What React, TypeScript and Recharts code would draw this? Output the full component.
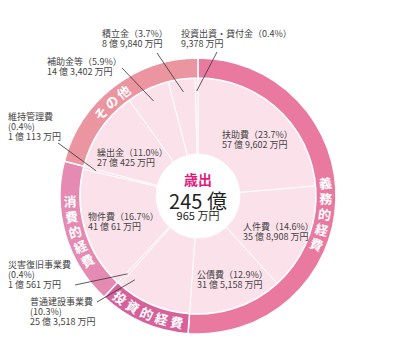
import { PieChart, Pie, Cell } from "recharts";

// 歳出の内訳（億・万円）
const names = ["扶助費", "人件費", "公債費", "普通建設事業費", "災害復旧事業費", "物件費", "維持管理費", "繰出金", "補助金等", "積立金", "投資出資・貸付金"];
const percents = [23.7, 14.6, 12.9, 10.3, 0.4, 16.7, 0.4, 11.0, 5.9, 3.7, 0.4];
const oku = [57, 35, 31, 25, 1, 41, 1, 27, 14, 8, 0];
const man = [9602, 8908, 5158, 3518, 561, 61, 113, 425, 3402, 9840, 9378];

// 性質別の区分
const groupNames = ["義務的経費", "投資的経費", "消費的経費", "その他"];
const groupOf = [0, 0, 0, 1, 1, 2, 2, 3, 3, 3, 3];

const totalOku = 245;
const totalMan = 965;

const groupColors = ["#e9799f", "#d6619b", "#e48ab3", "#eb95a0"];
const FONT = "'Noto Sans CJK JP', 'Noto Sans', sans-serif";
const CX = 198;
const CY = 196;
const RAD = Math.PI / 180;

const items = names.map((name, i) => ({ name, value: oku[i] * 10000 + man[i] }));
const groups = groupNames.map((name, g) => ({
  name,
  value: items.filter((_, i) => groupOf[i] === g).reduce((s, d) => s + d.value, 0),
}));

// label placement (first line centre), optional leader line start
type LabelPos = { x: number; y: number; split?: boolean; from?: [number, number]; pointDeg?: number };
const labelPos: LabelPos[] = [
  { x: 222, y: 135 },
  { x: 243, y: 227 },
  { x: 197, y: 275 },
  { x: 30, y: 302, split: true, from: [97, 302], pointDeg: 217 },
  { x: 8, y: 265, split: true, from: [75, 285] },
  { x: 88, y: 217 },
  { x: 8, y: 117, split: true, from: [58, 143] },
  { x: 97, y: 153 },
  { x: 47, y: 62, from: [122, 68] },
  { x: 102, y: 34, from: [157, 53] },
  { x: 181, y: 34, from: [217, 52] },
];

// ring text: mode decides how characters are turned, shift moves the text along the arc
const ringText = [
  { mode: "right", shift: -6 },
  { mode: "bottom", shift: 0 },
  { mode: "left", shift: 0 },
  { mode: "top", shift: 5 },
];

const amountText = (i: number) => {
  const m = man[i].toLocaleString("en-US");
  return oku[i] > 0 ? `${oku[i]} 億 ${m} 万円` : `${m} 万円`;
};

const renderItemLabel = (props: any) => {
  const { index, midAngle, cx, cy } = props;
  const pos = labelPos[index];
  const lines = pos.split
    ? [names[index], `(${percents[index].toFixed(1)}%)`, amountText(index)]
    : [`${names[index]}（${percents[index].toFixed(1)}%）`, amountText(index)];
  let leader = null;
  if (pos.from) {
    const a = pos.pointDeg !== undefined ? 90 - pos.pointDeg : midAngle;
    const ex = cx + 105 * Math.cos(-a * RAD);
    const ey = cy + 105 * Math.sin(-a * RAD);
    leader = <line x1={pos.from[0]} y1={pos.from[1]} x2={ex} y2={ey} stroke="#333" strokeWidth={0.8} />;
  }
  return (
    <g key={`lbl-${index}`}>
      {leader}
      {lines.map((t, k) => (
        <text key={k} x={pos.x} y={pos.y + k * 10 + 3} fontSize={9} fill="#444" fontFamily={FONT}>
          {t}
        </text>
      ))}
    </g>
  );
};

const renderRingLabel = (props: any) => {
  const { index, midAngle, cx, cy } = props;
  const cfg = ringText[index];
  const chars = Array.from(groupNames[index]);
  const n = chars.length;
  const step = 7;
  const r = 128;
  const dir = cfg.mode === "right" || cfg.mode === "top" ? -1 : 1;
  return (
    <g key={`ring-${index}`}>
      {chars.map((ch, i) => {
        const a = midAngle + cfg.shift + dir * (i - (n - 1) / 2) * step;
        const x = cx + r * Math.cos(-a * RAD);
        const y = cy + r * Math.sin(-a * RAD);
        let rot = 0;
        if (cfg.mode === "right") rot = -a;
        else if (cfg.mode === "left") rot = 180 - a;
        else if (cfg.mode === "bottom") rot = -90 - a;
        else rot = 90 - a;
        return (
          <text
            key={i}
            x={x}
            y={y}
            textAnchor="middle"
            dominantBaseline="central"
            fontSize={13}
            fontWeight="bold"
            fill="#fff"
            fontFamily={FONT}
            transform={`rotate(${rot}, ${x}, ${y})`}
          >
            {ch}
          </text>
        );
      })}
    </g>
  );
};

export default function App() {
  return (
    <div style={{ position: "absolute", left: 0, top: 0, background: "#fff" }}>
      <PieChart width={400} height={354} margin={{ top: 0, right: 0, bottom: 0, left: 0 }}>
        <Pie
          data={items}
          dataKey="value"
          cx={CX}
          cy={CY}
          innerRadius={42}
          outerRadius={118}
          startAngle={90}
          endAngle={-270}
          stroke="#fff"
          strokeWidth={1}
          label={renderItemLabel}
          labelLine={false}
          isAnimationActive={false}
        >
          {items.map((d) => (
            <Cell key={d.name} fill="#fae1ea" />
          ))}
        </Pie>
        <Pie
          data={groups}
          dataKey="value"
          cx={CX}
          cy={CY}
          innerRadius={118}
          outerRadius={138}
          startAngle={90}
          endAngle={-270}
          stroke="#fff"
          strokeWidth={1.5}
          label={renderRingLabel}
          labelLine={false}
          isAnimationActive={false}
        >
          {groups.map((d, i) => (
            <Cell key={d.name} fill={groupColors[i]} />
          ))}
        </Pie>
        <text x={CX} y={179} textAnchor="middle" dominantBaseline="central" fontSize={14} fontWeight="bold" fill="#e4197c" fontFamily={FONT}>
          歳出
        </text>
        <text x={CX} y={200} textAnchor="middle" dominantBaseline="central" fontSize={20} fill="#222" fontFamily={FONT}>
          {`${totalOku} 億`}
        </text>
        <text x={CX} y={215} textAnchor="middle" dominantBaseline="central" fontSize={11} fill="#222" fontFamily={FONT}>
          {`${totalMan} 万円`}
        </text>
      </PieChart>
    </div>
  );
}
